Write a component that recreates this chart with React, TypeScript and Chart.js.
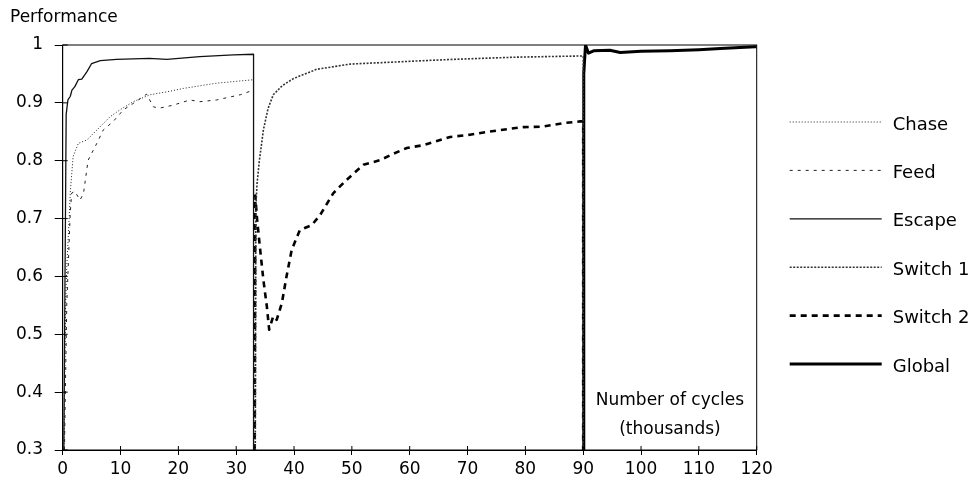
import React, { useEffect, useRef } from 'react';
import { Chart, registerables } from 'chart.js';

Chart.register(...registerables);

// ---- data (thousands of cycles vs performance) ----
const chaseX = [0.2, 0.5, 0.7, 1.0, 1.3, 1.8, 2.7, 4.2, 5.3, 6.5, 8.2, 9.9, 12.2, 15.1, 18, 20.9, 26.6, 33];
const chaseY = [0.3, 0.55, 0.617, 0.675, 0.744, 0.807, 0.83, 0.836, 0.847, 0.859, 0.876, 0.888, 0.902, 0.914, 0.919, 0.925, 0.934, 0.94];

const feedX = [0.3, 0.7, 1.0, 1.3, 1.55, 2.1, 3.0, 3.6, 4.4, 5.9, 7.0, 8.75, 10.5, 12.2, 14.5, 15.7, 16.8, 19.1, 22, 23.7, 26.6, 30.7, 32.7, 33];
const feedY = [0.3, 0.55, 0.629, 0.709, 0.744, 0.747, 0.732, 0.744, 0.801, 0.83, 0.853, 0.868, 0.888, 0.899, 0.915, 0.893, 0.891, 0.896, 0.905, 0.902, 0.905, 0.914, 0.921, 0.918];

const escapeX = [0.2, 0.4, 0.6, 0.9, 1.3, 1.6, 2.1, 2.7, 3.3, 4.2, 5.0, 6.5, 9.3, 15, 18, 23.7, 29.5, 33, 33];
const escapeY = [0.3, 0.6, 0.88, 0.905, 0.911, 0.922, 0.928, 0.94, 0.941, 0.954, 0.968, 0.973, 0.975, 0.977, 0.975, 0.98, 0.983, 0.984, 0.3];

const switch1X = [33.3, 33.4, 33.6, 34.0, 34.7, 35.5, 36.4, 38, 39.9, 43.9, 49.7, 58.3, 67, 78.5, 89.5, 90, 90];
const switch1Y = [0.3, 0.72, 0.76, 0.8, 0.853, 0.89, 0.914, 0.93, 0.942, 0.958, 0.967, 0.971, 0.975, 0.979, 0.981, 0.981, 0.3];

const switch2X = [33.2, 33.3, 33.6, 34.0, 34.7, 35.3, 35.7, 36.4, 37, 37.9, 38.7, 39.6, 41, 43.1, 44.5, 46.8, 49.1, 52, 54.9, 57.2, 59.5, 62.4, 67, 70.4, 75.6, 79.6, 83.1, 86.6, 89.5, 90, 90];
const switch2Y = [0.3, 0.74, 0.7, 0.66, 0.594, 0.548, 0.508, 0.531, 0.525, 0.554, 0.6, 0.646, 0.68, 0.689, 0.706, 0.744, 0.767, 0.793, 0.801, 0.812, 0.822, 0.827, 0.841, 0.845, 0.853, 0.858, 0.859, 0.865, 0.868, 0.868, 0.3];

const globalX = [90, 90.1, 90.4, 90.9, 91.8, 94.6, 96.4, 100, 105, 110, 113.7, 119.7, 120];
const globalY = [0.3, 0.95, 1.0, 0.986, 0.99, 0.991, 0.987, 0.989, 0.99, 0.992, 0.994, 0.997, 0.997];

const seriesLabels = ['Chase', 'Feed', 'Escape', 'Switch 1', 'Switch 2', 'Global'];
const xTickValues = [0, 10, 20, 30, 40, 50, 60, 70, 80, 90, 100, 110, 120];
const yTickLabels = ['0.3', '0.4', '0.5', '0.6', '0.7', '0.8', '0.9', '1'];
const yAxisTitle = 'Performance';
const xAxisNote = ['Number of cycles', '(thousands)'];

const FONT = '"DejaVu Sans", "Liberation Sans", sans-serif';

function pts(xs: number[], ys: number[]) {
  return xs.map((x, i) => ({ x, y: ys[i] }));
}

const framePlugin = {
  id: 'frame',
  afterDatasetsDraw(chart: any) {
    const { ctx, chartArea: a, scales } = chart;
    ctx.save();
    ctx.strokeStyle = '#000';
    ctx.lineWidth = 1;
    ctx.strokeRect(a.left, a.top, a.right - a.left, a.bottom - a.top);
    ctx.beginPath();
    scales.x.ticks.forEach((t: any) => {
      const px = scales.x.getPixelForValue(t.value);
      ctx.moveTo(px, a.bottom);
      ctx.lineTo(px, a.bottom - 4);
    });
    scales.y.ticks.forEach((t: any) => {
      const py = scales.y.getPixelForValue(t.value);
      ctx.moveTo(a.left, py);
      ctx.lineTo(a.left + 5, py);
    });
    ctx.stroke();
    ctx.fillStyle = '#000';
    ctx.font = `17px ${FONT}`;
    ctx.textAlign = 'center';
    ctx.textBaseline = 'middle';
    const nx = scales.x.getPixelForValue(105);
    ctx.fillText(xAxisNote[0], nx, scales.y.getPixelForValue(0.385));
    ctx.fillText(xAxisNote[1], nx, scales.y.getPixelForValue(0.335));
    ctx.restore();
  },
};

const legendPlugin = {
  id: 'sideLegend',
  afterDraw(chart: any) {
    const { ctx, chartArea: a } = chart;
    chart.data.datasets.forEach((ds: any, i: number) => {
      const y = a.top + 77 + i * 48.4;
      ctx.save();
      ctx.strokeStyle = ds.borderColor;
      ctx.lineWidth = ds.borderWidth;
      ctx.setLineDash(ds.borderDash || []);
      ctx.beginPath();
      ctx.moveTo(a.right + 33, y);
      ctx.lineTo(a.right + 125, y);
      ctx.stroke();
      ctx.setLineDash([]);
      ctx.fillStyle = '#000';
      ctx.font = `18px ${FONT}`;
      ctx.textAlign = 'left';
      ctx.textBaseline = 'middle';
      ctx.fillText(ds.label, a.right + 136, y + 3);
      ctx.restore();
    });
  },
};

export default function App() {
  const ref = useRef<HTMLCanvasElement | null>(null);

  useEffect(() => {
    if (!ref.current) return;
    const common = { pointRadius: 0, tension: 0, fill: false, borderCapStyle: 'butt', borderJoinStyle: 'round' };
    const chart = new Chart(ref.current, {
      type: 'line',
      data: {
        datasets: [
          { label: seriesLabels[0], data: pts(chaseX, chaseY), borderColor: '#222', borderWidth: 1, borderDash: [1, 2], ...common },
          { label: seriesLabels[1], data: pts(feedX, feedY), borderColor: '#222', borderWidth: 1, borderDash: [3, 5], ...common },
          { label: seriesLabels[2], data: pts(escapeX, escapeY), borderColor: '#111', borderWidth: 1.3, ...common },
          { label: seriesLabels[3], data: pts(switch1X, switch1Y), borderColor: '#333', borderWidth: 1.6, borderDash: [2, 1.5], ...common },
          { label: seriesLabels[4], data: pts(switch2X, switch2Y), borderColor: '#000', borderWidth: 2.6, borderDash: [6, 5], ...common },
          { label: seriesLabels[5], data: pts(globalX, globalY), borderColor: '#000', borderWidth: 3, ...common },
        ] as any,
      },
      options: {
        animation: false,
        responsive: false,
        layout: { padding: { left: 10, right: 218.3, top: 0, bottom: 0 } },
        plugins: {
          legend: { display: false },
          tooltip: { enabled: false },
          title: {
            display: true,
            text: yAxisTitle,
            align: 'start',
            color: '#000',
            font: { family: FONT, size: 17, weight: 'normal' },
            padding: { top: 7.3, bottom: 17.3 },
          },
        },
        scales: {
          x: {
            type: 'linear',
            min: 0,
            max: 120,
            afterBuildTicks: (s: any) => { s.ticks = xTickValues.map((v) => ({ value: v })); },
            afterFit: (s: any) => { s.height = 27; },
            ticks: { color: '#000', font: { family: FONT, size: 17 }, padding: 4, maxRotation: 0, autoSkip: false },
            grid: { drawOnChartArea: false, drawTicks: true, tickLength: 5, color: '#000' },
            border: { color: '#000' },
          },
          y: {
            type: 'linear',
            min: 0.3,
            max: 1,
            afterBuildTicks: (s: any) => { s.ticks = yTickLabels.map((l) => ({ value: Number(l) })); },
            afterFit: (s: any) => { s.width = 52.7; },
            ticks: {
              color: '#000',
              font: { family: FONT, size: 17 },
              padding: 11.7,
              callback: (v: any) => yTickLabels.find((l) => Math.abs(Number(l) - v) < 1e-6) ?? '',
            },
            grid: { drawOnChartArea: false, drawTicks: true, tickLength: 8, color: '#000' },
            border: { color: '#000' },
          },
        },
      } as any,
      plugins: [framePlugin, legendPlugin],
    });
    return () => chart.destroy();
  }, []);

  return (
    <div style={{ position: 'fixed', left: 0, top: 0, width: 975, height: 477, background: '#fff' }}>
      <canvas ref={ref} width={975} height={477} style={{ display: 'block' }} />
    </div>
  );
}
